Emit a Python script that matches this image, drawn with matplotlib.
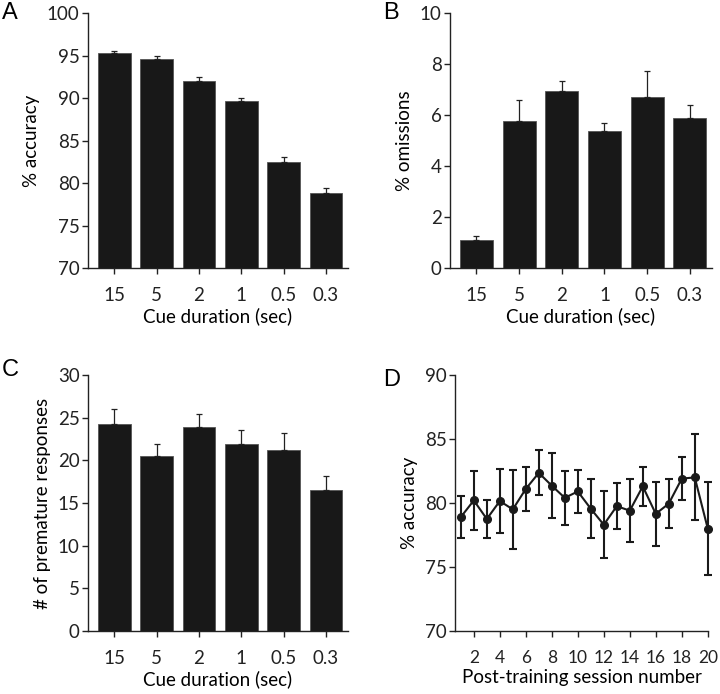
import matplotlib
matplotlib.use("Agg")
import matplotlib.pyplot as plt
import numpy as np

plt.rcParams['font.family'] = ['Lato', 'DejaVu Sans']

cue_labels = ["15", "5", "2", "1", "0.5", "0.3"]

accuracy = [95.3, 94.6, 92.05, 89.6, 82.45, 78.85]
accuracy_err = [0.25, 0.3, 0.4, 0.45, 0.65, 0.6]

omissions = [1.11, 5.75, 6.94, 5.38, 6.70, 5.89]
omissions_err = [0.13, 0.83, 0.4, 0.32, 1.04, 0.49]

premature = [24.25, 20.45, 23.85, 21.9, 21.15, 16.55]
premature_err = [1.75, 1.45, 1.6, 1.65, 2.05, 1.65]

sessions = list(range(1, 21))
session_acc = [78.9, 80.2, 78.75, 80.15, 79.5, 81.1, 82.35, 81.35, 80.4, 80.9,
               79.55, 78.3, 79.75, 79.4, 81.3, 79.15, 79.95, 81.9, 82.0, 78.0]
session_err = [1.65, 2.3, 1.45, 2.5, 3.1, 1.7, 1.75, 2.55, 2.1, 1.65,
               2.3, 2.6, 1.8, 2.45, 1.5, 2.5, 1.9, 1.7, 3.35, 3.6]

BAR = '#181818'
FS = 13.5


def style_axes(ax):
    ax.spines['top'].set_visible(False)
    ax.spines['right'].set_visible(False)
    for s in ('left', 'bottom'):
        ax.spines[s].set_linewidth(1.0)
        ax.spines[s].set_color('#222222')
    ax.tick_params(direction='out', length=4, width=1.0, labelsize=FS, colors='#222222')
    ax.tick_params(axis='x', pad=10)
    ax.tick_params(axis='y', pad=2)


def bar_panel(ax, values, errs, ylim, yticks, ylabel):
    x = np.arange(len(values))
    ax.bar(x, values, width=0.77, color=BAR, edgecolor='#555555', linewidth=0.6,
           bottom=0 if ylim[0] == 0 else None)
    ax.errorbar(x, values, yerr=[np.zeros(len(errs)), errs], fmt='none',
                ecolor='#222222', elinewidth=0.9, capsize=2.5, capthick=0.9)
    ax.set_xlim(-0.62, 5.52)
    ax.set_ylim(*ylim)
    ax.set_yticks(yticks)
    ax.set_xticks(x)
    ax.set_xticklabels(cue_labels)
    ax.set_ylabel(ylabel, fontsize=FS, labelpad=5)
    ax.set_xlabel("Cue duration (sec)", fontsize=FS, labelpad=2)
    style_axes(ax)


fig = plt.figure(figsize=(7.2, 6.94), dpi=100)

axA = fig.add_axes([0.1222, 0.6138, 0.361, 0.3674])
axB = fig.add_axes([0.625, 0.6138, 0.3639, 0.3674])
axC = fig.add_axes([0.1222, 0.0908, 0.361, 0.3689])
axD = fig.add_axes([0.6319, 0.0908, 0.352, 0.3689])

bar_panel(axA, accuracy, accuracy_err, (70, 100), np.arange(70, 101, 5), "% accuracy")
bar_panel(axB, omissions, omissions_err, (0, 10), np.arange(0, 11, 2), "% omissions")
bar_panel(axC, premature, premature_err, (0, 30), np.arange(0, 31, 5), "# of premature responses")

# panel D: session accuracy
axD.errorbar(sessions, session_acc, yerr=session_err, fmt='-o', color='#1a1a1a',
             lw=1.5, ms=5.5, elinewidth=1.5, capsize=3, capthick=1.5, clip_on=False)
axD.set_xlim(0.55, 20.05)
axD.set_ylim(70, 90)
axD.set_yticks(np.arange(70, 91, 5))
axD.set_xticks(np.arange(2, 21, 2))
axD.set_ylabel("% accuracy", fontsize=FS, labelpad=5)
axD.set_xlabel("Post-training session number", fontsize=FS, labelpad=2)
style_axes(axD)
axD.tick_params(axis='x', labelsize=12.5)

for ax, letter, (lx, ly) in zip([axA, axB, axC, axD], "ABCD",
                                [(0.003, 0.997), (0.532, 0.997), (0.003, 0.482), (0.532, 0.468)]):
    fig.text(lx, ly, letter, fontsize=17, family='Liberation Sans', va='top', ha='left')

fig.savefig("out.png", dpi=100)
